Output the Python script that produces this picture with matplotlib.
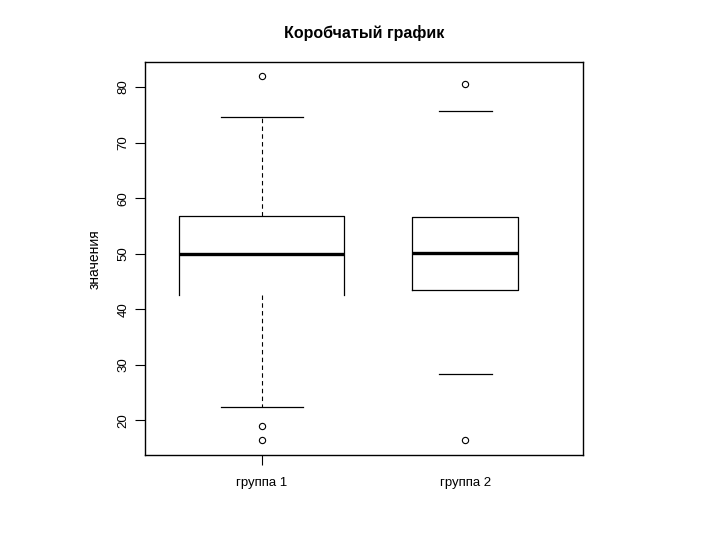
import matplotlib
matplotlib.use("Agg")
import matplotlib.pyplot as plt

plt.rcParams['font.family'] = ['Liberation Sans', 'DejaVu Sans']

groups = ["группа 1", "группа 2"]
q1 = [42.5, 43.4]
med = [49.9, 50.1]
q3 = [56.8, 56.6]
whislo = [22.3, 28.3]
whishi = [74.6, 75.7]
fliers = [[82.0, 18.9, 16.4], [80.5, 16.4]]
widths = [0.81, 0.52]
yticks = [20, 30, 40, 50, 60, 70, 80]

stats = []
for i, g in enumerate(groups):
    stats.append(dict(label=g, q1=q1[i], med=med[i], q3=q3[i],
                      whislo=whislo[i], whishi=whishi[i], fliers=fliers[i]))

fig = plt.figure(figsize=(7.2, 5.4), dpi=100)
ax = fig.add_axes([0.201, 0.157, 0.609, 0.728])

bp = ax.bxp(stats, positions=[1, 2], widths=widths, showfliers=True,
            boxprops=dict(color='black', linewidth=0.9),
            medianprops=dict(color='black', linewidth=2.4),
            whiskerprops=dict(color='black', linewidth=0.8, linestyle=(0, (4, 3))),
            capprops=dict(color='black', linewidth=0.9),
            capwidths=[w * 0.5 for w in widths],
            flierprops=dict(marker='o', markerfacecolor='none', markeredgecolor='black',
                            markersize=4.5, markeredgewidth=0.8))

# reproduce reference rendering: box 1 lacks bottom edge, group 2 whiskers not visible
box0 = bp['boxes'][0]
xs, ys = box0.get_data()
x1, x2 = min(xs), max(xs)
box0.set_data([x1, x1, x2, x2], [q1[0], q3[0], q3[0], q1[0]])
for w in bp['whiskers'][2:4]:
    w.set_visible(False)

ax.set_xlim(0.424, 2.58)
ax.set_ylim(13.7, 84.5)
ax.set_yticks(yticks)
ax.set_yticklabels([str(t) for t in yticks], rotation=90, va='center', fontsize=9.5)
ax.set_xticks([1, 2])
ax.set_xticklabels(groups, fontsize=9.5)
ax.tick_params(axis='both', direction='out', length=7, width=0.8, pad=4)
ax.tick_params(axis='x', pad=9)
xt = ax.xaxis.get_major_ticks()
xt[1].tick1line.set_visible(False)

for s in ax.spines.values():
    s.set_linewidth(1.0)
    s.set_color('black')

ax.set_ylabel("значения", fontsize=10, labelpad=11)
ax.set_title("Коробчатый график", fontsize=11.5, fontweight='bold', pad=17)

fig.savefig("out.png", dpi=100)
